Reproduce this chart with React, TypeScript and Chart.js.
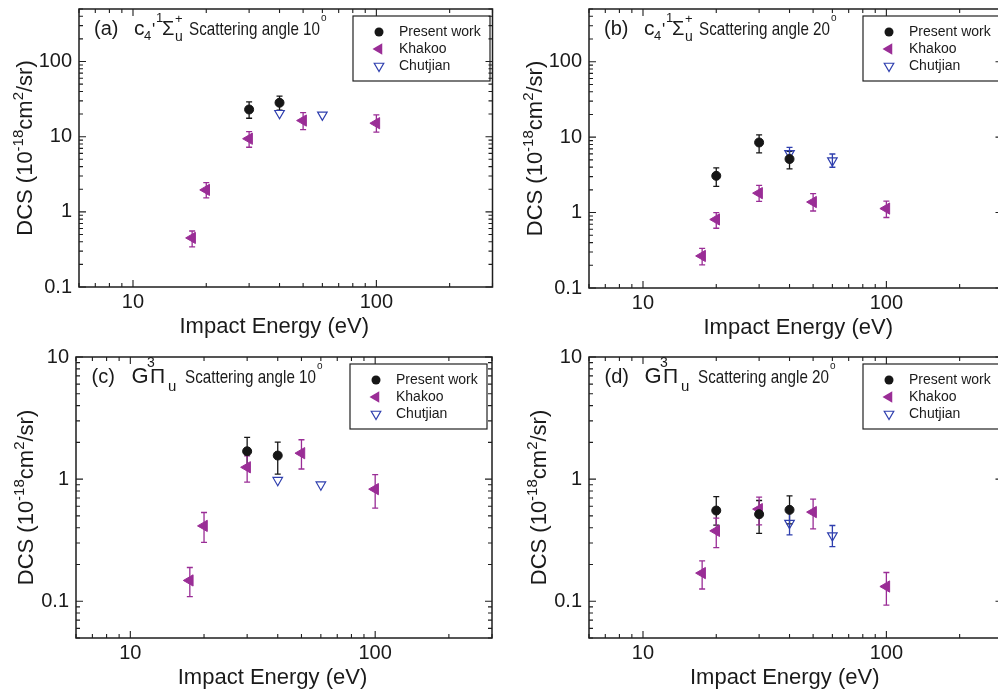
import React, { useEffect, useRef } from 'react';
import { Chart, registerables } from 'chart.js';

Chart.register(...registerables);

// [impact energy (eV), DCS, error low, error high]
type Pt = [number, number, number | null, number | null];

// Panel (a): c4'1Σu+ , 10°
const presentA: Pt[] = [[30, 23, 17.6, 29.1], [40, 28.3, 22.6, 34.6]];
const khakooA: Pt[] = [[17.5, 0.45, 0.342, 0.556], [20, 1.96, 1.53, 2.45], [30, 9.4, 7.24, 11.7], [50, 16.4, 12.4, 20.9], [100, 15.1, 11.5, 19.5]];
const chutjianA: Pt[] = [[40, 20.5, null, null], [60, 19.5, null, null]];

// Panel (b): c4'1Σu+ , 20°
const presentB: Pt[] = [[20, 3.07, 2.22, 3.91], [30, 8.5, 6.2, 10.7], [40, 5.13, 3.79, 6.5]];
const khakooB: Pt[] = [[17.5, 0.266, 0.203, 0.336], [20, 0.81, 0.62, 1.0], [30, 1.81, 1.41, 2.29], [50, 1.38, 1.05, 1.78], [100, 1.13, 0.86, 1.42]];
const chutjianB: Pt[] = [[40, 6.1, 5.0, 7.3], [60, 4.88, 3.99, 5.98]];

// Panel (c): G3Πu , 10°
const presentC: Pt[] = [[30, 1.69, 1.27, 2.2], [40, 1.56, 1.1, 2.01]];
const khakooC: Pt[] = [[17.5, 0.148, 0.109, 0.189], [20, 0.414, 0.303, 0.533], [30, 1.25, 0.945, 1.55], [50, 1.63, 1.21, 2.1], [100, 0.828, 0.578, 1.09]];
const chutjianC: Pt[] = [[40, 0.98, null, null], [60, 0.9, null, null]];

// Panel (d): G3Πu , 20°
const presentD: Pt[] = [[20, 0.553, 0.42, 0.72], [30, 0.516, 0.36, 0.668], [40, 0.56, 0.43, 0.73]];
const khakooD: Pt[] = [[17.5, 0.17, 0.126, 0.214], [20, 0.377, 0.275, 0.479], [30, 0.568, 0.422, 0.712], [50, 0.537, 0.392, 0.686], [100, 0.132, 0.093, 0.172]];
const chutjianD: Pt[] = [[40, 0.436, 0.35, 0.553], [60, 0.345, 0.28, 0.417]];

const seriesNames = ['Present work', 'Khakoo', 'Chutjian'];

const xTickValues = [6, 7, 8, 9, 10, 20, 30, 40, 50, 60, 70, 80, 90, 100, 200, 300];
const xLabelValues = [10, 100];
const xLabelTexts = ['10', '100'];

const yTickValuesTop = [0.1, 0.2, 0.3, 0.4, 0.5, 0.6, 0.7, 0.8, 0.9, 1, 2, 3, 4, 5, 6, 7, 8, 9, 10, 20, 30, 40, 50, 60, 70, 80, 90, 100, 200, 300, 400, 500];
const yLabelValuesTop = [0.1, 1, 10, 100];
const yLabelTextsTop = ['0.1', '1', '10', '100'];

const yTickValuesBottom = [0.05, 0.06, 0.07, 0.08, 0.09, 0.1, 0.2, 0.3, 0.4, 0.5, 0.6, 0.7, 0.8, 0.9, 1, 2, 3, 4, 5, 6, 7, 8, 9, 10];
const yLabelValuesBottom = [0.1, 1, 10];
const yLabelTextsBottom = ['0.1', '1', '10'];

const FONT = '"Liberation Sans", Arial, Helvetica, sans-serif';
const TXT = '#1a1a1a';
const PRESENT = '#161616';
const KHAKOO = '#9a2d96';
const CHUTJIAN = '#2f3fae';

type Seg = { t: string; dx: number | 'after'; size: number; dy?: number; sx?: number };

interface Panel {
  key: string;
  left: number; top: number; width: number; height: number;
  yAxisW: number; xAxisH: number; padTop: number; padRight: number;
  yMin: number; yMax: number;
  yTicks: number[]; yLabelVals: number[]; yLabelTxt: string[];
  present: Pt[]; khakoo: Pt[]; chutjian: Pt[];
  title: Seg[];
  xTitleDx: number; yTitleOff: number;
}

function c4Title(letter: string, angle: string): Seg[] {
  return [
    { t: `(${letter})`, dx: 15, size: 20 },
    { t: 'c', dx: 55, size: 21 },
    { t: '4', dx: 65, size: 13, dy: 5 },
    { t: "'", dx: 73, size: 17 },
    { t: '1', dx: 77, size: 13, dy: -13 },
    { t: 'Σ', dx: 83, size: 20 },
    { t: '+', dx: 96, size: 13, dy: -12 },
    { t: 'u', dx: 96, size: 14, dy: 6 },
    { t: `Scattering angle ${angle}`, dx: 110, size: 19, sx: 0.8 },
    { t: 'o', dx: 'after', size: 10, dy: -14 },
  ];
}

function gTitle(letter: string, angle: string): Seg[] {
  return [
    { t: `(${letter})`, dx: 15.5, size: 20 },
    { t: 'G', dx: 55.5, size: 22 },
    { t: '3', dx: 71, size: 14, dy: -16 },
    { t: 'Π', dx: 74, size: 21 },
    { t: 'u', dx: 92, size: 15, dy: 8 },
    { t: `Scattering angle ${angle}`, dx: 109, size: 19, sx: 0.8 },
    { t: 'o', dx: 'after', size: 10, dy: -14 },
  ];
}

const panels: Panel[] = [
  {
    key: 'a', left: 0, top: -10, width: 500, height: 356, yAxisW: 79, xAxisH: 59, padTop: 16, padRight: 6,
    yMin: 0.1, yMax: 500, yTicks: yTickValuesTop, yLabelVals: yLabelValuesTop, yLabelTxt: yLabelTextsTop,
    present: presentA, khakoo: khakooA, chutjian: chutjianA, title: c4Title('a', '10'), xTitleDx: -11.5, yTitleOff: 47.5,
  },
  {
    key: 'b', left: 510, top: -10, width: 500, height: 356, yAxisW: 79, xAxisH: 58, padTop: 17, padRight: 6,
    yMin: 0.1, yMax: 500, yTicks: yTickValuesTop, yLabelVals: yLabelValuesTop, yLabelTxt: yLabelTextsTop,
    present: presentB, khakoo: khakooB, chutjian: chutjianB, title: c4Title('b', '20'), xTitleDx: 2.5, yTitleOff: 47.5,
  },
  {
    key: 'c', left: 0, top: 336, width: 500, height: 356, yAxisW: 76, xAxisH: 54, padTop: 21, padRight: 8,
    yMin: 0.05, yMax: 10, yTicks: yTickValuesBottom, yLabelVals: yLabelValuesBottom, yLabelTxt: yLabelTextsBottom,
    present: presentC, khakoo: khakooC, chutjian: chutjianC, title: gTitle('c', '10'), xTitleDx: -11.5, yTitleOff: 43,
  },
  {
    key: 'd', left: 510, top: 336, width: 500, height: 356, yAxisW: 79, xAxisH: 54, padTop: 21, padRight: 6,
    yMin: 0.05, yMax: 10, yTicks: yTickValuesBottom, yLabelVals: yLabelValuesBottom, yLabelTxt: yLabelTextsBottom,
    present: presentD, khakoo: khakooD, chutjian: chutjianD, title: gTitle('d', '20'), xTitleDx: -11, yTitleOff: 43,
  },
];

function findLabel(vals: number[], txt: string[], v: number): string {
  const i = vals.findIndex((u) => Math.abs(u - v) / u < 1e-6);
  return i >= 0 ? txt[i] : '';
}

function font(size: number) {
  return `${size}px ${FONT}`;
}

function drawMarker(ctx: CanvasRenderingContext2D, kind: number, x: number, y: number) {
  ctx.save();
  if (kind === 0) {
    ctx.fillStyle = PRESENT;
    ctx.beginPath();
    ctx.arc(x, y, 4.5, 0, Math.PI * 2);
    ctx.fill();
  } else if (kind === 1) {
    const r = 6.5;
    ctx.fillStyle = KHAKOO;
    ctx.beginPath();
    ctx.moveTo(x - r, y);
    ctx.lineTo(x + r / 2, y - (r * Math.sqrt(3)) / 2);
    ctx.lineTo(x + r / 2, y + (r * Math.sqrt(3)) / 2);
    ctx.closePath();
    ctx.fill();
  } else {
    const r = 5.5;
    ctx.strokeStyle = CHUTJIAN;
    ctx.lineWidth = 1.2;
    ctx.beginPath();
    ctx.moveTo(x, y + r);
    ctx.lineTo(x - (r * Math.sqrt(3)) / 2, y - r / 2);
    ctx.lineTo(x + (r * Math.sqrt(3)) / 2, y - r / 2);
    ctx.closePath();
    ctx.stroke();
  }
  ctx.restore();
}

function makePlugin(p: Panel) {
  return {
    id: 'decor_' + p.key,
    beforeDatasetsDraw(chart: any) {
      const ctx: CanvasRenderingContext2D = chart.ctx;
      const xs = chart.scales.x;
      const ys = chart.scales.y;
      ctx.save();
      chart.data.datasets.forEach((ds: any) => {
        ctx.strokeStyle = ds.borderColor;
        ctx.lineWidth = 1.3;
        (ds.errs as Pt[]).forEach((d) => {
          if (d[2] == null || d[3] == null) return;
          const px = xs.getPixelForValue(d[0]);
          const lo = ys.getPixelForValue(d[2]);
          const hi = ys.getPixelForValue(d[3]);
          ctx.beginPath();
          ctx.moveTo(px, lo);
          ctx.lineTo(px, hi);
          ctx.moveTo(px - 3, lo);
          ctx.lineTo(px + 3, lo);
          ctx.moveTo(px - 3, hi);
          ctx.lineTo(px + 3, hi);
          ctx.stroke();
        });
      });
      ctx.restore();
    },
    afterDraw(chart: any) {
      const ctx: CanvasRenderingContext2D = chart.ctx;
      const a = chart.chartArea;
      const xs = chart.scales.x;
      const ys = chart.scales.y;
      ctx.save();
      // frame
      ctx.strokeStyle = '#1e1e1e';
      ctx.lineWidth = 1.5;
      ctx.strokeRect(a.left, a.top, a.right - a.left, a.bottom - a.top);
      // ticks (inside, mirrored)
      ctx.lineWidth = 1.1;
      ctx.beginPath();
      xTickValues.forEach((v) => {
        const px = xs.getPixelForValue(v);
        const len = xLabelValues.some((u) => Math.abs(u - v) < 1e-9) ? 7 : 4;
        ctx.moveTo(px, a.bottom);
        ctx.lineTo(px, a.bottom - len);
        ctx.moveTo(px, a.top);
        ctx.lineTo(px, a.top + len);
      });
      p.yTicks.forEach((v) => {
        const py = ys.getPixelForValue(v);
        const len = p.yLabelVals.some((u) => Math.abs(u - v) / u < 1e-6) || Math.abs(v - 10) < 1e-9 ? 7 : 4;
        ctx.moveTo(a.left, py);
        ctx.lineTo(a.left + len, py);
        ctx.moveTo(a.right, py);
        ctx.lineTo(a.right - len, py);
      });
      ctx.stroke();

      ctx.fillStyle = TXT;
      // x title
      ctx.font = font(22);
      ctx.textAlign = 'center';
      ctx.textBaseline = 'alphabetic';
      ctx.fillText('Impact Energy (eV)', (a.left + a.right) / 2 + p.xTitleDx, a.bottom + 46);

      // y title (rotated, with superscripts)
      const ySegs: Seg[] = [
        { t: 'DCS (10', dx: 0, size: 22 },
        { t: '-18', dx: 0, size: 15, dy: -9 },
        { t: 'cm', dx: 0, size: 22 },
        { t: '2', dx: 0, size: 15, dy: -9 },
        { t: '/sr)', dx: 0, size: 22 },
      ];
      let total = 0;
      ySegs.forEach((s) => {
        ctx.font = font(s.size);
        total += ctx.measureText(s.t).width;
      });
      ctx.save();
      ctx.translate(a.left - p.yTitleOff, (a.top + a.bottom) / 2);
      ctx.rotate(-Math.PI / 2);
      ctx.textAlign = 'left';
      let cx = -total / 2;
      ySegs.forEach((s) => {
        ctx.font = font(s.size);
        ctx.fillText(s.t, cx, s.dy || 0);
        cx += ctx.measureText(s.t).width;
      });
      ctx.restore();

      // panel title
      const baseY = a.top + 26;
      let lastEnd = a.left;
      ctx.textAlign = 'left';
      p.title.forEach((s) => {
        ctx.font = font(s.size);
        const x0 = s.dx === 'after' ? lastEnd + 1 : a.left + s.dx;
        const w = ctx.measureText(s.t).width * (s.sx || 1);
        ctx.save();
        ctx.translate(x0, baseY + (s.dy || 0));
        ctx.scale(s.sx || 1, 1);
        ctx.fillText(s.t, 0, 0);
        ctx.restore();
        lastEnd = x0 + w;
      });

      // legend
      const bx = a.left + 274;
      const by = a.top + 7;
      ctx.strokeStyle = '#222';
      ctx.lineWidth = 1.2;
      ctx.strokeRect(bx, by, 137, 65);
      ctx.font = font(14);
      ctx.textBaseline = 'middle';
      seriesNames.forEach((name, i) => {
        const ry = by + 16 + i * 17;
        drawMarker(ctx, i, bx + 26, ry);
        ctx.fillStyle = TXT;
        ctx.fillText(name, bx + 46, ry + 0.5);
      });
      ctx.restore();
    },
  };
}

function PanelChart({ p }: { p: Panel }) {
  const ref = useRef<HTMLCanvasElement>(null);
  useEffect(() => {
    if (!ref.current) return;
    const toXY = (arr: Pt[]) => arr.map((d) => ({ x: d[0], y: d[1] }));
    const chart = new Chart(ref.current, {
      type: 'scatter',
      data: {
        datasets: [
          {
            label: seriesNames[0], data: toXY(p.present), errs: p.present,
            pointStyle: 'circle', pointRadius: 4.5, backgroundColor: PRESENT, borderColor: PRESENT, pointBorderWidth: 1,
          } as any,
          {
            label: seriesNames[1], data: toXY(p.khakoo), errs: p.khakoo,
            pointStyle: 'triangle', pointRotation: -90, pointRadius: 6.5, backgroundColor: KHAKOO, borderColor: KHAKOO, pointBorderWidth: 1,
          } as any,
          {
            label: seriesNames[2], data: toXY(p.chutjian), errs: p.chutjian,
            pointStyle: 'triangle', pointRotation: 180, pointRadius: 5.5, backgroundColor: 'rgba(0,0,0,0)', borderColor: CHUTJIAN, pointBorderWidth: 1.2,
          } as any,
        ],
      },
      options: {
        animation: false,
        responsive: false,
        events: [],
        layout: { padding: { left: 0, right: p.padRight, top: p.padTop, bottom: 0 } },
        plugins: { legend: { display: false }, tooltip: { enabled: false } },
        scales: {
          x: {
            type: 'logarithmic', position: 'bottom', min: 6, max: 300,
            grid: { display: false, drawTicks: false }, border: { display: false },
            afterBuildTicks: (s: any) => { s.ticks = xTickValues.map((v) => ({ value: v })); },
            afterFit: (s: any) => { s.height = p.xAxisH; },
            ticks: {
              autoSkip: false, maxRotation: 0, minRotation: 0, padding: 3, color: TXT,
              font: { family: FONT, size: 20 },
              callback: (v: any) => findLabel(xLabelValues, xLabelTexts, Number(v)),
            },
          },
          y: {
            type: 'logarithmic', position: 'left', min: p.yMin, max: p.yMax,
            grid: { display: false, drawTicks: false }, border: { display: false },
            afterBuildTicks: (s: any) => { s.ticks = p.yTicks.map((v) => ({ value: v })); },
            afterFit: (s: any) => { s.width = p.yAxisW; },
            ticks: {
              autoSkip: false, padding: 7, color: TXT,
              font: { family: FONT, size: 20 },
              callback: (v: any) => findLabel(p.yLabelVals, p.yLabelTxt, Number(v)),
            },
          },
        },
      } as any,
      plugins: [makePlugin(p)],
    });
    return () => chart.destroy();
  }, [p]);
  return (
    <canvas
      ref={ref}
      width={p.width}
      height={p.height}
      style={{ position: 'absolute', left: p.left, top: p.top, width: p.width, height: p.height }}
    />
  );
}

export default function App() {
  return (
    <div
      style={{
        position: 'fixed', left: 0, top: 0, width: 998, height: 692,
        overflow: 'hidden', background: '#ffffff',
      }}
    >
      {panels.map((p) => (
        <PanelChart key={p.key} p={p} />
      ))}
    </div>
  );
}
